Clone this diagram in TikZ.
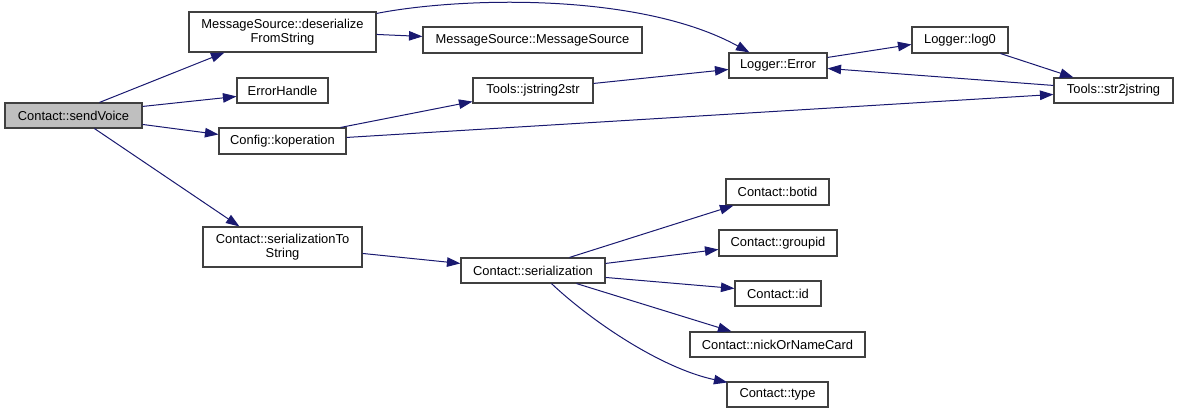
\documentclass[tikz,border=0pt]{standalone}
\usepackage{fontspec}
\setmainfont{Liberation Sans}
\usetikzlibrary{arrows.meta,calc}
\definecolor{edgeblue}{HTML}{191970}
\definecolor{boxline}{HTML}{404040}
\definecolor{rootfill}{HTML}{BFBFBF}
\tikzset{
  box/.style={draw=boxline,line width=1.1pt,fill=white,rectangle,inner sep=0pt,align=center,
    font=\fontsize{12.9}{14.5}\selectfont},
  root/.style={box,fill=rootfill},
  edge/.style={draw=edgeblue,line width=1pt,-{Triangle[length=13.5pt,width=9.5pt]},color=edgeblue}
}
\begin{document}
\begin{tikzpicture}[x=1pt,y=-1pt]
\useasboundingbox (0,0) rectangle (1179,414);
\node[root,minimum width=137pt,minimum height=25pt] (sv) at (73.5,115.5) {Contact::sendVoice};
\node[box,minimum width=187pt,minimum height=40pt] (des) at (282.5,32) {MessageSource::deserialize\\FromString};
\node[box,minimum width=91pt,minimum height=25pt] (eh) at (282.5,90.5) {ErrorHandle};
\node[box,minimum width=127pt,minimum height=26pt] (kop) at (282.5,141) {Config::koperation};
\node[box,minimum width=219pt,minimum height=26pt] (ms) at (532.5,40) {MessageSource::MessageSource};
\node[box,minimum width=120pt,minimum height=25pt] (js) at (533,90.5) {Tools::jstring2str};
\node[box,minimum width=98pt,minimum height=25pt] (err) at (778,65.5) {Logger::Error};
\node[box,minimum width=96pt,minimum height=26pt] (log) at (960,40) {Logger::log0};
\node[box,minimum width=119pt,minimum height=25pt] (s2j) at (1113.5,90.5) {Tools::str2jstring};
\node[box,minimum width=159pt,minimum height=40pt] (sts) at (282.5,247) {Contact::serializationTo\\String};
\node[box,minimum width=144pt,minimum height=25pt] (ser) at (533,270.5) {Contact::serialization};
\node[box,minimum width=103pt,minimum height=26pt] (bot) at (777.5,192) {Contact::botid};
\node[box,minimum width=118pt,minimum height=26pt] (grp) at (778,243) {Contact::groupid};
\node[box,minimum width=86pt,minimum height=25pt] (cid) at (778,293.5) {Contact::id};
\node[box,minimum width=175pt,minimum height=25pt] (nick) at (777.5,344.5) {Contact::nickOrNameCard};
\node[box,minimum width=101pt,minimum height=25pt] (typ) at (777.5,394.5) {Contact::type};

\draw[edge] ($(sv.north west)+(95,0)$) -- ($(des.south west)+(36,0)$);
\draw[edge] ($(sv.north east)+(0,4)$) -- ($(eh.north west)+(0,19)$);
\draw[edge] ($(sv.north east)+(0,22)$) -- ($(kop.north west)+(0,7)$);
\draw[edge] ($(sv.south west)+(90,0)$) -- ($(sts.north west)+(37,0)$);
\draw[edge] ($(des.north east)+(0,23)$) -- ($(ms.north west)+(0,10)$);
\draw[edge] ($(des.north east)+(0,2)$) .. controls (460,-3) and (640,-8) .. ($(err.north west)+(21,0)$);
\draw[edge] ($(kop.north east)+(-6,0)$) -- ($(js.south west)+(0,-2)$);
\draw[edge] ($(kop.north east)+(0,10)$) -- ($(s2j.north west)+(0,17)$);
\draw[edge] ($(js.north east)+(0,6)$) -- ($(err.north west)+(0,17)$);
\draw[edge] ($(err.north east)+(0,5)$) -- ($(log.north west)+(0,18)$);
\draw[edge] ($(log.south east)+(-8,0)$) -- ($(s2j.north west)+(20,0)$);
\draw[edge] ($(s2j.north west)+(0,8)$) -- ($(err.north east)+(0,16)$);
\draw[edge] ($(sts.north east)+(0,27)$) -- ($(ser.north west)+(0,6)$);
\draw[edge] ($(ser.north west)+(109,0)$) -- ($(bot.south west)+(8,0)$);
\draw[edge] ($(ser.north east)+(0,6)$) -- ($(grp.north west)+(0,20)$);
\draw[edge] ($(ser.north east)+(0,20)$) -- ($(cid.north west)+(0,8)$);
\draw[edge] ($(ser.south west)+(116,0)$) -- ($(nick.north west)+(42,0)$);
\draw[edge] ($(ser.south west)+(91,0)$) .. controls (590,320) and (660,368) .. ($(typ.north west)+(1,1)$);
\end{tikzpicture}
\end{document}
